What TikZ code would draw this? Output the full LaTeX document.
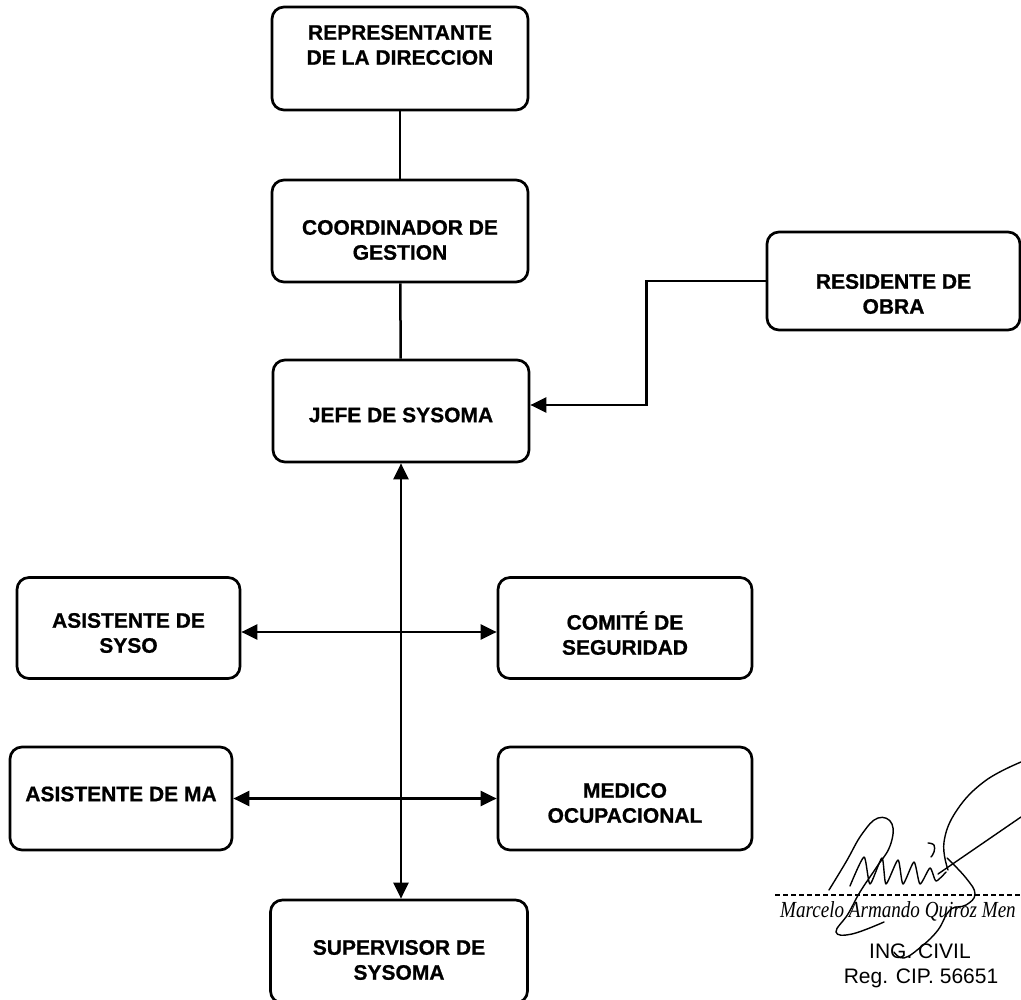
\documentclass[tikz,border=0pt]{standalone}
\usepackage{fontspec}
\setmainfont{Liberation Sans}[BoldFeatures={FakeBold=0.8}]
\newfontfamily\signfont{Liberation Serif}
\usetikzlibrary{arrows.meta}

\begin{document}
\begin{tikzpicture}[x=1pt,y=-1pt,
    box/.style={draw,line width=2.7pt,rounded corners=12pt,inner sep=0pt,
      minimum width=256pt,minimum height=103pt},
    txt/.style={align=center,inner sep=0pt,font=\bfseries\fontsize{21}{25}\selectfont},
    link/.style={line width=2.5pt},
    arr/.style={link,-{Triangle[length=16pt,width=15pt]}},
    darr/.style={link,{Triangle[length=16pt,width=15pt]}-{Triangle[length=16pt,width=15pt]}},
    sig/.style={line width=1.4pt,line cap=round,line join=round},
    every node/.style={font=\fontsize{21}{24}\selectfont}]
  \useasboundingbox (0,0) rectangle (1021,1000);
  % central chain
  \node[box] (rep) at (400,58.5) {};
  \node[txt] (rep-t) at (400,45) {REPRESENTANTE\\DE LA DIRECCION};
  \node[box,minimum height=102pt] (coord) at (400,231) {};
  \node[txt] (coord-t) at (400,240) {COORDINADOR DE\\GESTION};
  \node[box,minimum height=102pt] (jefe) at (401,411) {};
  \node[txt] (jefe-t) at (401,415) {JEFE DE SYSOMA};
  \node[box,minimum width=253pt,minimum height=98pt] (resid) at (893.5,281) {};
  \node[txt] (resid-t) at (893.5,294) {RESIDENTE DE\\OBRA};
  % staff
  \node[box,minimum width=223pt,minimum height=101pt] (asyso) at (128.5,628) {};
  \node[txt] (asyso-t) at (128.5,633) {ASISTENTE DE\\SYSO};
  \node[box,minimum width=254pt,minimum height=101pt] (comite) at (625,628) {};
  \node[txt] (comite-t) at (625,633) {COMITÉ DE\\SEGURIDAD};
  \node[box,minimum width=222pt] (ama) at (121,798.5) {};
  \node[txt] (ama-t) at (121,794) {ASISTENTE DE MA};
  \node[box,minimum width=254pt] (medico) at (625,798.5) {};
  \node[txt] (medico-t) at (625,803) {MEDICO\\OCUPACIONAL};
  \node[box,minimum width=257pt] (super) at (399,951.5) {};
  \node[txt] (super-t) at (399,960) {SUPERVISOR DE\\SYSOMA};
  % connectors
  \draw[link] (rep) -- (coord);
  \draw[link] (coord) -- (jefe);
  \draw[arr] (resid.west) -- ++(-119,0) |- ([yshift=6pt]jefe.east);
  \draw[darr] (jefe.south) -- (jefe.south |- super.north);
  \draw[darr] ([yshift=-4pt]asyso.east) -- ([yshift=-4pt]comite.west);
  \draw[darr] (ama) -- (medico);
  % signature
  \coordinate (sigL) at (775,895);
  \coordinate (sigR) at (1021,895);
  \draw[line width=1.6pt,dash pattern=on 5pt off 3pt] (sigL) -- (sigR);
  \draw[sig] plot[smooth,tension=0.7] coordinates {(829,890) (846,862) (862,834) (878,818) (892,824) (890,846) (876,868) (860,892) (848,914) (836,932) (852,934) (884,922)};
  \draw[sig] plot[smooth,tension=0.4] coordinates {(850,886) (864,857) (870,884) (882,858) (886,884) (898,860) (903,884) (914,862) (920,884) (930,868) (936,881) (946,872)};
  \draw[sig] plot[smooth,tension=0.7] coordinates {(948,870) (944,842) (957,810) (985,781) (1021,762)};
  \draw[sig] (938,874) -- (1021,817);
  \draw[sig] plot[smooth,tension=0.7] coordinates {(947,858) (966,878) (975,894) (966,905) (950,910) (938,930) (922,946) (904,958) (894,952)};
  \draw[sig] plot[smooth,tension=0.7] coordinates {(928,843) (934,845) (934,852) (931,857)};
  \node[anchor=base west,inner sep=0pt,font=\signfont\itshape\fontsize{23}{26}\selectfont] (signame) at (780,917) {\scalebox{0.83}[1]{Marcelo Armando Quiroz Men}};
  \node[anchor=base,inner sep=0pt] (sigtitle) at (920,958) {ING. CIVIL};
  \node[anchor=base,inner sep=0pt] (sigreg) at (921,983) {Reg. CIP. 56651};
\end{tikzpicture}
\end{document}
